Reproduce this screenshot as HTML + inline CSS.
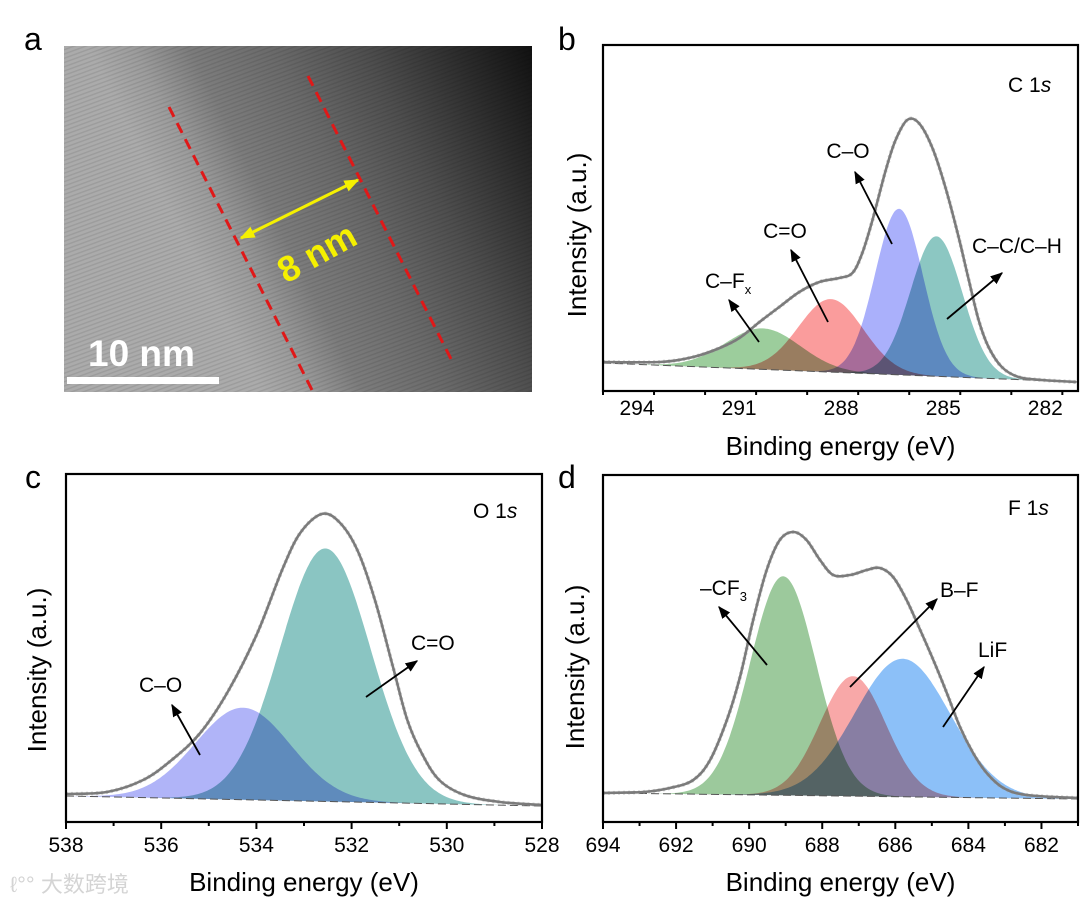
<!DOCTYPE html>
<html><head><meta charset="utf-8"><style>
html,body{margin:0;padding:0;background:#fff;}
svg{display:block;font-family:"Liberation Sans","Noto Sans CJK SC",sans-serif;}
.comp{mix-blend-mode:multiply;}
</style></head><body>
<svg id="fig" width="1080" height="902" viewBox="0 0 1080 902" xmlns="http://www.w3.org/2000/svg">
<defs>
<linearGradient id="temGrad" gradientUnits="userSpaceOnUse" x1="190" y1="250" x2="556" y2="65">
<stop offset="0" stop-color="#ababab"/><stop offset="0.1" stop-color="#9c9c9c"/><stop offset="0.22" stop-color="#7c7c7c"/><stop offset="0.4" stop-color="#6a6a6a"/><stop offset="0.6" stop-color="#4e4e4e"/><stop offset="0.8" stop-color="#2c2c2c"/><stop offset="1" stop-color="#0c0c0c"/>
</linearGradient>
<pattern id="fringe" patternUnits="userSpaceOnUse" width="4" height="4" patternTransform="rotate(-20)">
<rect width="4" height="1.4" fill="#000" opacity="0.2"/>
</pattern>
<marker id="arr" viewBox="0 0 10 10" refX="9" refY="5" markerWidth="7" markerHeight="7" orient="auto"><path d="M0,1 L10,5 L0,9 z" fill="#000"/></marker>
<marker id="yarr" viewBox="0 0 10 10" refX="9" refY="5" markerWidth="5" markerHeight="5" orient="auto-start-reverse"><path d="M0,1 L10,5 L0,9 z" fill="#f5f000"/></marker>
</defs>

<g>
<rect x="64" y="46" width="468" height="346" fill="url(#temGrad)"/>
<rect x="64" y="46" width="468" height="346" fill="url(#fringe)" opacity="0.45"/>
<line x1="169" y1="107" x2="312" y2="390" stroke="#e01818" stroke-width="3" stroke-dasharray="11,7"/>
<line x1="308" y1="76" x2="452" y2="361" stroke="#e01818" stroke-width="3" stroke-dasharray="11,7"/>
<line x1="241" y1="238" x2="358" y2="180" stroke="#f5f000" stroke-width="3" marker-start="url(#yarr)" marker-end="url(#yarr)"/>
<text x="317" y="265" transform="rotate(-29 317 253)" text-anchor="middle" font-size="36" font-weight="bold" fill="#f5f000">8 nm</text>
<text x="88" y="366" font-size="37" font-weight="bold" fill="#fff">10 nm</text>
<rect x="67" y="377" width="152" height="7" fill="#fff"/>
</g>
<text x="24" y="50" font-size="32">a</text>
<text x="558" y="50" font-size="32">b</text>
<text x="25" y="488" font-size="32">c</text>
<text x="558" y="488" font-size="32">d</text>
<text x="10" y="892" font-size="22" fill="#d4d4d4">ℓ°° 大数跨境</text>
<g id="charts"></g>
</svg>
<script>
// ---- Panel b: C 1s ----
const bTicks=[294,291,288,285,282];
const bEnvE=[295.0,293.33,292.35,291.57,290.99,290.40,289.82,289.23,288.64,288.06,287.67,287.38,287.08,286.69,286.40,286.06,285.72,285.33,284.94,284.55,284.25,283.96,283.67,283.28,282.79,282.11,281.1];
const bEnvI=[29,29,34,43,53,69,84,99,109,113,118,138,171,221,251,271,268,244,204,154,111,71,44,24,14,11,9];
const bBg=[28,9];
const bNames=["c-fx","c-double-o","c-o","c-c-c-h"];
const bCenters=[290.3,288.3,286.3,285.2];
const bHeights=[41,73,166,140];
const bSigmas=[1.1,0.95,0.7,0.76];
const bColors=["#9ccd9c","#fa9c9c","#aab0fb","#8cc7c2"];
// ---- Panel c: O 1s ----
const cTicks=[538,536,534,532,530,528];
const cEnvE=[538.0,537.14,536.38,535.78,535.18,534.58,533.98,533.46,533.08,532.63,532.26,531.88,531.51,531.13,530.83,530.53,530.16,529.63,528.88,528.0];
const cEnvI=[28,30,42,62,89,132,189,252,289,308,300,272,222,155,102,69,42,27,20,17];
const cBg=[26,16];
const cNames=["c-o","c-double-o"];
const cCenters=[534.28,532.55];
const cHeights=[92,253];
const cSigmas=[1.0,0.95];
const cColors=["#b0b4f8","#8ac5c2"];
// ---- Panel d: F 1s ----
const dTicks=[694,692,690,688,686,684,682];
const dEnvE=[694,692.9,692.17,691.53,691.07,690.61,690.25,689.89,689.52,689.16,688.79,688.43,688.06,687.70,687.24,686.78,686.42,686.06,685.69,685.32,684.96,684.59,684.23,683.87,683.50,683.04,682.40,681.01];
const dEnvI=[29,30,34,42,62,102,145,202,252,282,290,282,262,247,247,252,254,245,222,192,162,129,95,69,49,34,27,24];
const dBg=[29,23];
const dNames=["cf3","b-f","lif"];
const dCenters=[689.07,687.16,685.8];
const dHeights=[219,120,138];
const dSigmas=[0.9,0.9,1.3];
const dColors=["#9cc99c","#f8a8a8","#8cc0f8"];

const NS="http://www.w3.org/2000/svg";
const root=document.getElementById('charts');
function mk(tag,attrs,parent){const e=document.createElementNS(NS,tag);for(const k in attrs)e.setAttribute(k,attrs[k]);(parent||root).appendChild(e);return e;}

function smoothPath(pts){
  let d="M"+pts[0][0].toFixed(1)+","+pts[0][1].toFixed(1);
  for(let i=0;i<pts.length-1;i++){
    const p0=pts[Math.max(0,i-1)],p1=pts[i],p2=pts[i+1],p3=pts[Math.min(pts.length-1,i+2)];
    const c1=[p1[0]+(p2[0]-p0[0])/6,p1[1]+(p2[1]-p0[1])/6];
    const c2=[p2[0]-(p3[0]-p1[0])/6,p2[1]-(p3[1]-p1[1])/6];
    d+=" C"+c1[0].toFixed(1)+","+c1[1].toFixed(1)+" "+c2[0].toFixed(1)+","+c2[1].toFixed(1)+" "+p2[0].toFixed(1)+","+p2[1].toFixed(1);
  }
  return d;
}

function panel(p){
  const g=mk('g',{});
  
  
  const W=p.right-p.left;
  const x=E=>p.left+(p.eMax-E)/(p.eMax-p.eMin)*W;
  const y=I=>p.bottom-I;
  const bg=E=>p.bg[0]+(p.bg[1]-p.bg[0])*(p.eMax-E)/(p.eMax-p.eMin);
  const cg=mk('g',{style:'isolation:isolate'},g);
  for(let k=0;k<p.centers.length;k++){
    let d="";const step=(p.eMax-p.eMin)/300;
    for(let i=0;i<=300;i++){const E=p.eMax-i*step;const I=bg(E)+p.heights[k]*Math.exp(-Math.pow(E-p.centers[k],2)/(2*p.sigmas[k]*p.sigmas[k]));d+=(i?"L":"M")+x(E).toFixed(1)+","+y(I).toFixed(1);}
    d+="L"+x(p.eMin).toFixed(1)+","+y(bg(p.eMin)).toFixed(1)+"L"+x(p.eMax).toFixed(1)+","+y(bg(p.eMax)).toFixed(1)+"Z";
    const c=mk('path',{d:d,fill:p.colors[k],class:'comp'},cg);
    
    
  }
  const bl=mk('line',{x1:x(p.eMax),y1:y(bg(p.eMax)),x2:x(p.eMin),y2:y(bg(p.eMin)),stroke:'#555','stroke-width':1,'stroke-dasharray':'8,4'},g);
  
  
  const pts=p.envE.map((E,i)=>[x(E),y(p.envI[i])]);
  const dots=mk('path',{d:smoothPath(pts),fill:'none',stroke:'#aaa','stroke-width':4,'stroke-dasharray':'2,3',opacity:0.5},g);
  
  
  const env=mk('path',{d:smoothPath(pts),fill:'none',stroke:'#7b7b7b','stroke-width':2.6},g);
  
  
  const fr=mk('rect',{x:p.left,y:p.top,width:W,height:p.bottom-p.top,fill:'none',stroke:'#000','stroke-width':2.2},g);
  
  
  for(let E=p.eMax;E>=p.eMin-1e-6;E-=p.minor){
    const major=p.ticks.some(t=>Math.abs(t-E)<1e-6);
    const t=mk('line',{x1:x(E),y1:p.bottom,x2:x(E),y2:p.bottom+(major?7:4),stroke:'#000','stroke-width':2},g);
    
    
  }
  p.ticks.forEach(T=>{
    const t=mk('text',{x:x(T),y:p.tickY,'text-anchor':'middle','font-size':21},g);
    t.textContent=T;
    
    
  });
  const xt=mk('text',{x:p.left+W/2,y:p.titleY,'text-anchor':'middle','font-size':26},g);
  xt.textContent='Binding energy (eV)';
  
  
  const yt=mk('text',{x:0,y:0,'text-anchor':'middle','font-size':26,transform:'translate('+(p.ytX+9)+','+p.ytY+') rotate(-90)'},g);
  yt.textContent='Intensity (a.u.)';
  
  
  p.ann.forEach(a=>{
    const t=mk('text',{x:a.x,y:a.y,'font-size':21,'text-anchor':a.anchor||'start'},g);
    t.innerHTML=a.html;
    
    
    if(a.arrow){
      const l=mk('line',{x1:a.arrow[0],y1:a.arrow[1],x2:a.arrow[2],y2:a.arrow[3],stroke:'#000','stroke-width':1.8,'marker-end':'url(#arr)'},g);
      
      
    }
  });
}

panel({id:'panel-b',left:603,right:1078,top:45,bottom:391,eMax:295,eMin:281.04,ticks:bTicks,minor:1.5,
  envE:bEnvE,envI:bEnvI,bg:bBg,names:bNames,centers:bCenters,heights:bHeights,sigmas:bSigmas,colors:bColors,
  tickY:415,titleY:455,ytX:577,ytY:235,
  ann:[{name:'c1s',x:1008,y:92,html:'C 1<tspan font-style="italic">s</tspan>'},
       {name:'c-o',x:848,y:158,anchor:'middle',html:'C–O',arrow:[892,244,855,172]},
       {name:'c-double-o',x:785,y:238,anchor:'middle',html:'C=O',arrow:[828,322,791,250]},
       {name:'c-fx',x:705,y:288,html:'C–F<tspan font-size="13" dy="6">x</tspan>',arrow:[759,342,729,300]},
       {name:'c-c-c-h',x:972,y:253,html:'C–C/C–H',arrow:[947,319,1002,273]}]});
panel({id:'panel-c',left:66,right:542,top:474,bottom:822,eMax:538,eMin:528,ticks:cTicks,minor:1,
  envE:cEnvE,envI:cEnvI,bg:cBg,names:cNames,centers:cCenters,heights:cHeights,sigmas:cSigmas,colors:cColors,
  tickY:852,titleY:891,ytX:37,ytY:670,
  ann:[{name:'o1s',x:473,y:518,html:'O 1<tspan font-style="italic">s</tspan>'},
       {name:'c-double-o',x:411,y:650,html:'C=O',arrow:[366,697,417,661]},
       {name:'c-o',x:139,y:692,html:'C–O',arrow:[200,755,172,705]}]});
panel({id:'panel-d',left:603,right:1078,top:475,bottom:822,eMax:694,eMin:681,ticks:dTicks,minor:1,
  envE:dEnvE,envI:dEnvI,bg:dBg,names:dNames,centers:dCenters,heights:dHeights,sigmas:dSigmas,colors:dColors,
  tickY:852,titleY:891,ytX:575,ytY:667,
  ann:[{name:'f1s',x:1008,y:515,html:'F 1<tspan font-style="italic">s</tspan>'},
       {name:'cf3',x:700,y:595,html:'–CF<tspan font-size="13" dy="6">3</tspan>',arrow:[767,665,719,607]},
       {name:'b-f',x:940,y:597,html:'B–F',arrow:[850,687,937,599]},
       {name:'lif',x:978,y:657,html:'LiF',arrow:[943,727,984,667]}]});
</script>
</body></html>
